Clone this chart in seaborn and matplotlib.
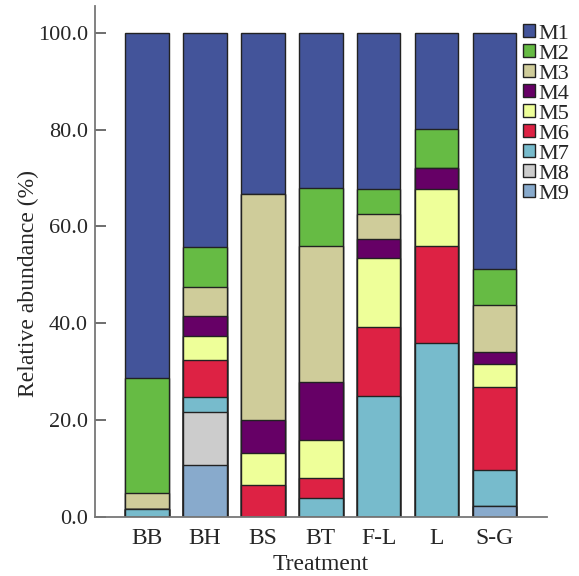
import numpy as np
import pandas as pd
import matplotlib
matplotlib.use("Agg")
import matplotlib.pyplot as plt
from matplotlib.patches import Patch
from matplotlib.ticker import FormatStrFormatter
import seaborn as sns

categories = ["BB", "BH", "BS", "BT", "F-L", "L", "S-G"]
series = ["M1", "M2", "M3", "M4", "M5", "M6", "M7", "M8", "M9"]
M1 = [71.4, 44.2, 33.3, 32.1, 32.2, 19.9, 48.9]
M2 = [23.8, 8.4, 0.0, 11.9, 5.2, 8.1, 7.3]
M3 = [3.2, 5.9, 46.7, 28.2, 5.2, 0.0, 9.8]
M4 = [0.0, 4.2, 6.8, 12.0, 3.9, 4.2, 2.5]
M5 = [0.0, 5.0, 6.7, 7.9, 14.3, 11.8, 4.8]
M6 = [0.0, 7.5, 6.5, 4.1, 14.3, 20.1, 17.1]
M7 = [1.6, 3.2, 0.0, 3.8, 24.9, 35.9, 7.4]
M8 = [0.0, 10.9, 0.0, 0.0, 0.0, 0.0, 0.0]
M9 = [0.0, 10.7, 0.0, 0.0, 0.0, 0.0, 2.2]
colors = ["#43549A", "#66BB44", "#CFCC9A", "#660066", "#EEFF99",
          "#DD2244", "#77BBCC", "#CCCCCC", "#88AACC"]

values = [M1, M2, M3, M4, M5, M6, M7, M8, M9]

sns.set_theme(style="white")
plt.rcParams["font.family"] = ["Liberation Serif", "DejaVu Serif"]

fig = plt.figure(figsize=(5.79, 5.76), dpi=100)
ax = fig.add_axes([95 / 579, (576 - 516.5) / 576, (546.7 - 95) / 579, (516.5 - 6) / 576])

# stack bottom-up: M9 at bottom, M1 on top. Draw cumulative totals from largest down.
arr = np.array(values)  # shape (9, 7)
for i in range(len(series)):
    cum = arr[i:].sum(axis=0)
    df = pd.DataFrame({"Treatment": categories, "cum": cum})
    sns.barplot(data=df, x="Treatment", y="cum", color=colors[i], width=0.75,
                edgecolor="#222222", linewidth=1.0, saturation=1, ax=ax)

ax.set_xlim(-0.9, 6.9)
ax.set_ylim(0, 105.6)
ax.set_yticks([0, 20, 40, 60, 80, 100])
ax.yaxis.set_major_formatter(FormatStrFormatter("%.1f"))
ax.tick_params(axis="y", direction="in", length=8, width=1.2, color="#555555",
               labelsize=16, left=True, pad=5)
ax.tick_params(axis="x", length=0, labelsize=17, pad=8)
for s in ["top", "right"]:
    ax.spines[s].set_visible(False)
for s in ["left", "bottom"]:
    ax.spines[s].set_color("#777777")
    ax.spines[s].set_linewidth(1.3)
ax.set_xlabel("Treatment", fontsize=17, labelpad=4)
ax.set_ylabel("Relative abundance (%)", fontsize=17)
ax.yaxis.set_label_coords(-0.123, 0.457)

handles = [Patch(facecolor=c, edgecolor="#222222", linewidth=1.0, label=s)
           for c, s in zip(colors, series)]
fig.legend(handles=handles, loc="upper left", bbox_to_anchor=(523 / 579, 1 - 24 / 576),
           frameon=False, fontsize=16, handlelength=0.55, handleheight=0.55,
           handletextpad=0.15, labelspacing=0.02, borderpad=0, borderaxespad=0)

fig.savefig("out.png", dpi=100)
